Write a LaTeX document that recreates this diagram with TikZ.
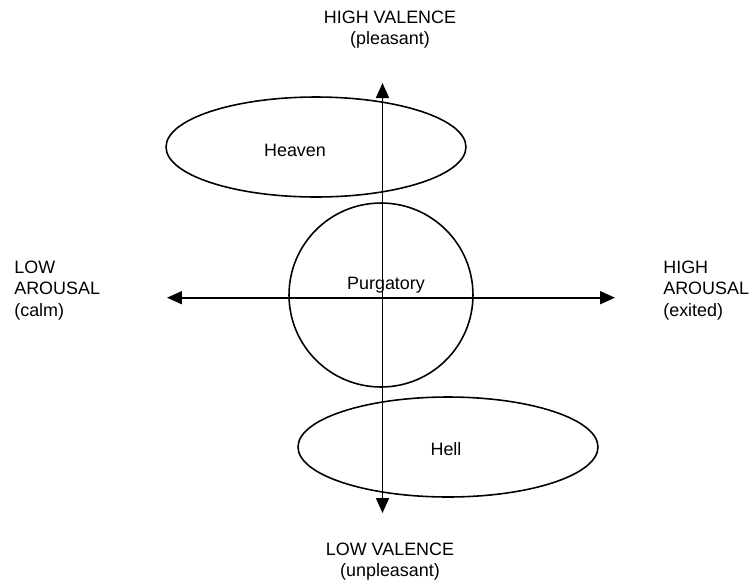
\documentclass[tikz,border=0pt]{standalone}
\usepackage{fontspec}
\setmainfont{Liberation Sans}
\usetikzlibrary{shapes.geometric, arrows.meta, positioning}
\tikzstyle{region} = [ellipse, draw, line width=0.9pt, minimum width=6cm, minimum height=2cm, inner sep=0pt]
\tikzstyle{limbo} = [circle, draw, line width=0.9pt, minimum size=3.68cm, inner sep=0pt]
\tikzstyle{axis} = [line width=1pt, {Triangle[length=0.3cm,width=0.26cm]}-{Triangle[length=0.3cm,width=0.26cm]}]
\tikzstyle{caption} = [align=center, inner sep=0pt, font=\fontsize{10.2}{12.2}\selectfont]
\tikzstyle{sidecaption} = [align=left, inner sep=0pt, font=\fontsize{10.2}{12.2}\selectfont]

\begin{document}
\begin{tikzpicture}[x=0.02cm, y=-0.02cm]
    \useasboundingbox (0,0) rectangle (752,583);

    % Regions
    \node (heaven) [region] at (316,147) {};
    \node (purgatory) [limbo] at (381,295) {};
    \node (hell) [region] at (448,447) {};

    \node (heaven_text) [caption, anchor=base] at (295,156.5) {Heaven};
    \node (purgatory_text) [caption, anchor=base] at (386,289.5) {Purgatory};
    \node (hell_text) [caption, anchor=base] at (446,455.5) {Hell};

    % Axis ends
    \coordinate (high_val) at (382.5,83);
    \coordinate (low_val) at (382.5,513);
    \coordinate (low_ar) at (167,297.7);
    \coordinate (high_ar) at (615,297.7);

    % Axis labels
    \node (high_val_text) [caption, anchor=north] at (390,10.3) {HIGH VALENCE\\(pleasant)};
    \node (low_val_text) [caption, anchor=north] at (390,542.6) {LOW VALENCE\\(unpleasant)};
    \node (low_ar_text) [sidecaption, anchor=north west] at (14,260.3) {LOW\\AROUSAL\\(calm)};
    \node (high_ar_text) [sidecaption, anchor=north west] at (663,260.3) {HIGH\\AROUSAL\\(exited)};

    % ==== Arrows
    \draw [axis] (low_val) -- (high_val);
    \draw [axis] (low_ar) -- (high_ar);

\end{tikzpicture}
\end{document}
